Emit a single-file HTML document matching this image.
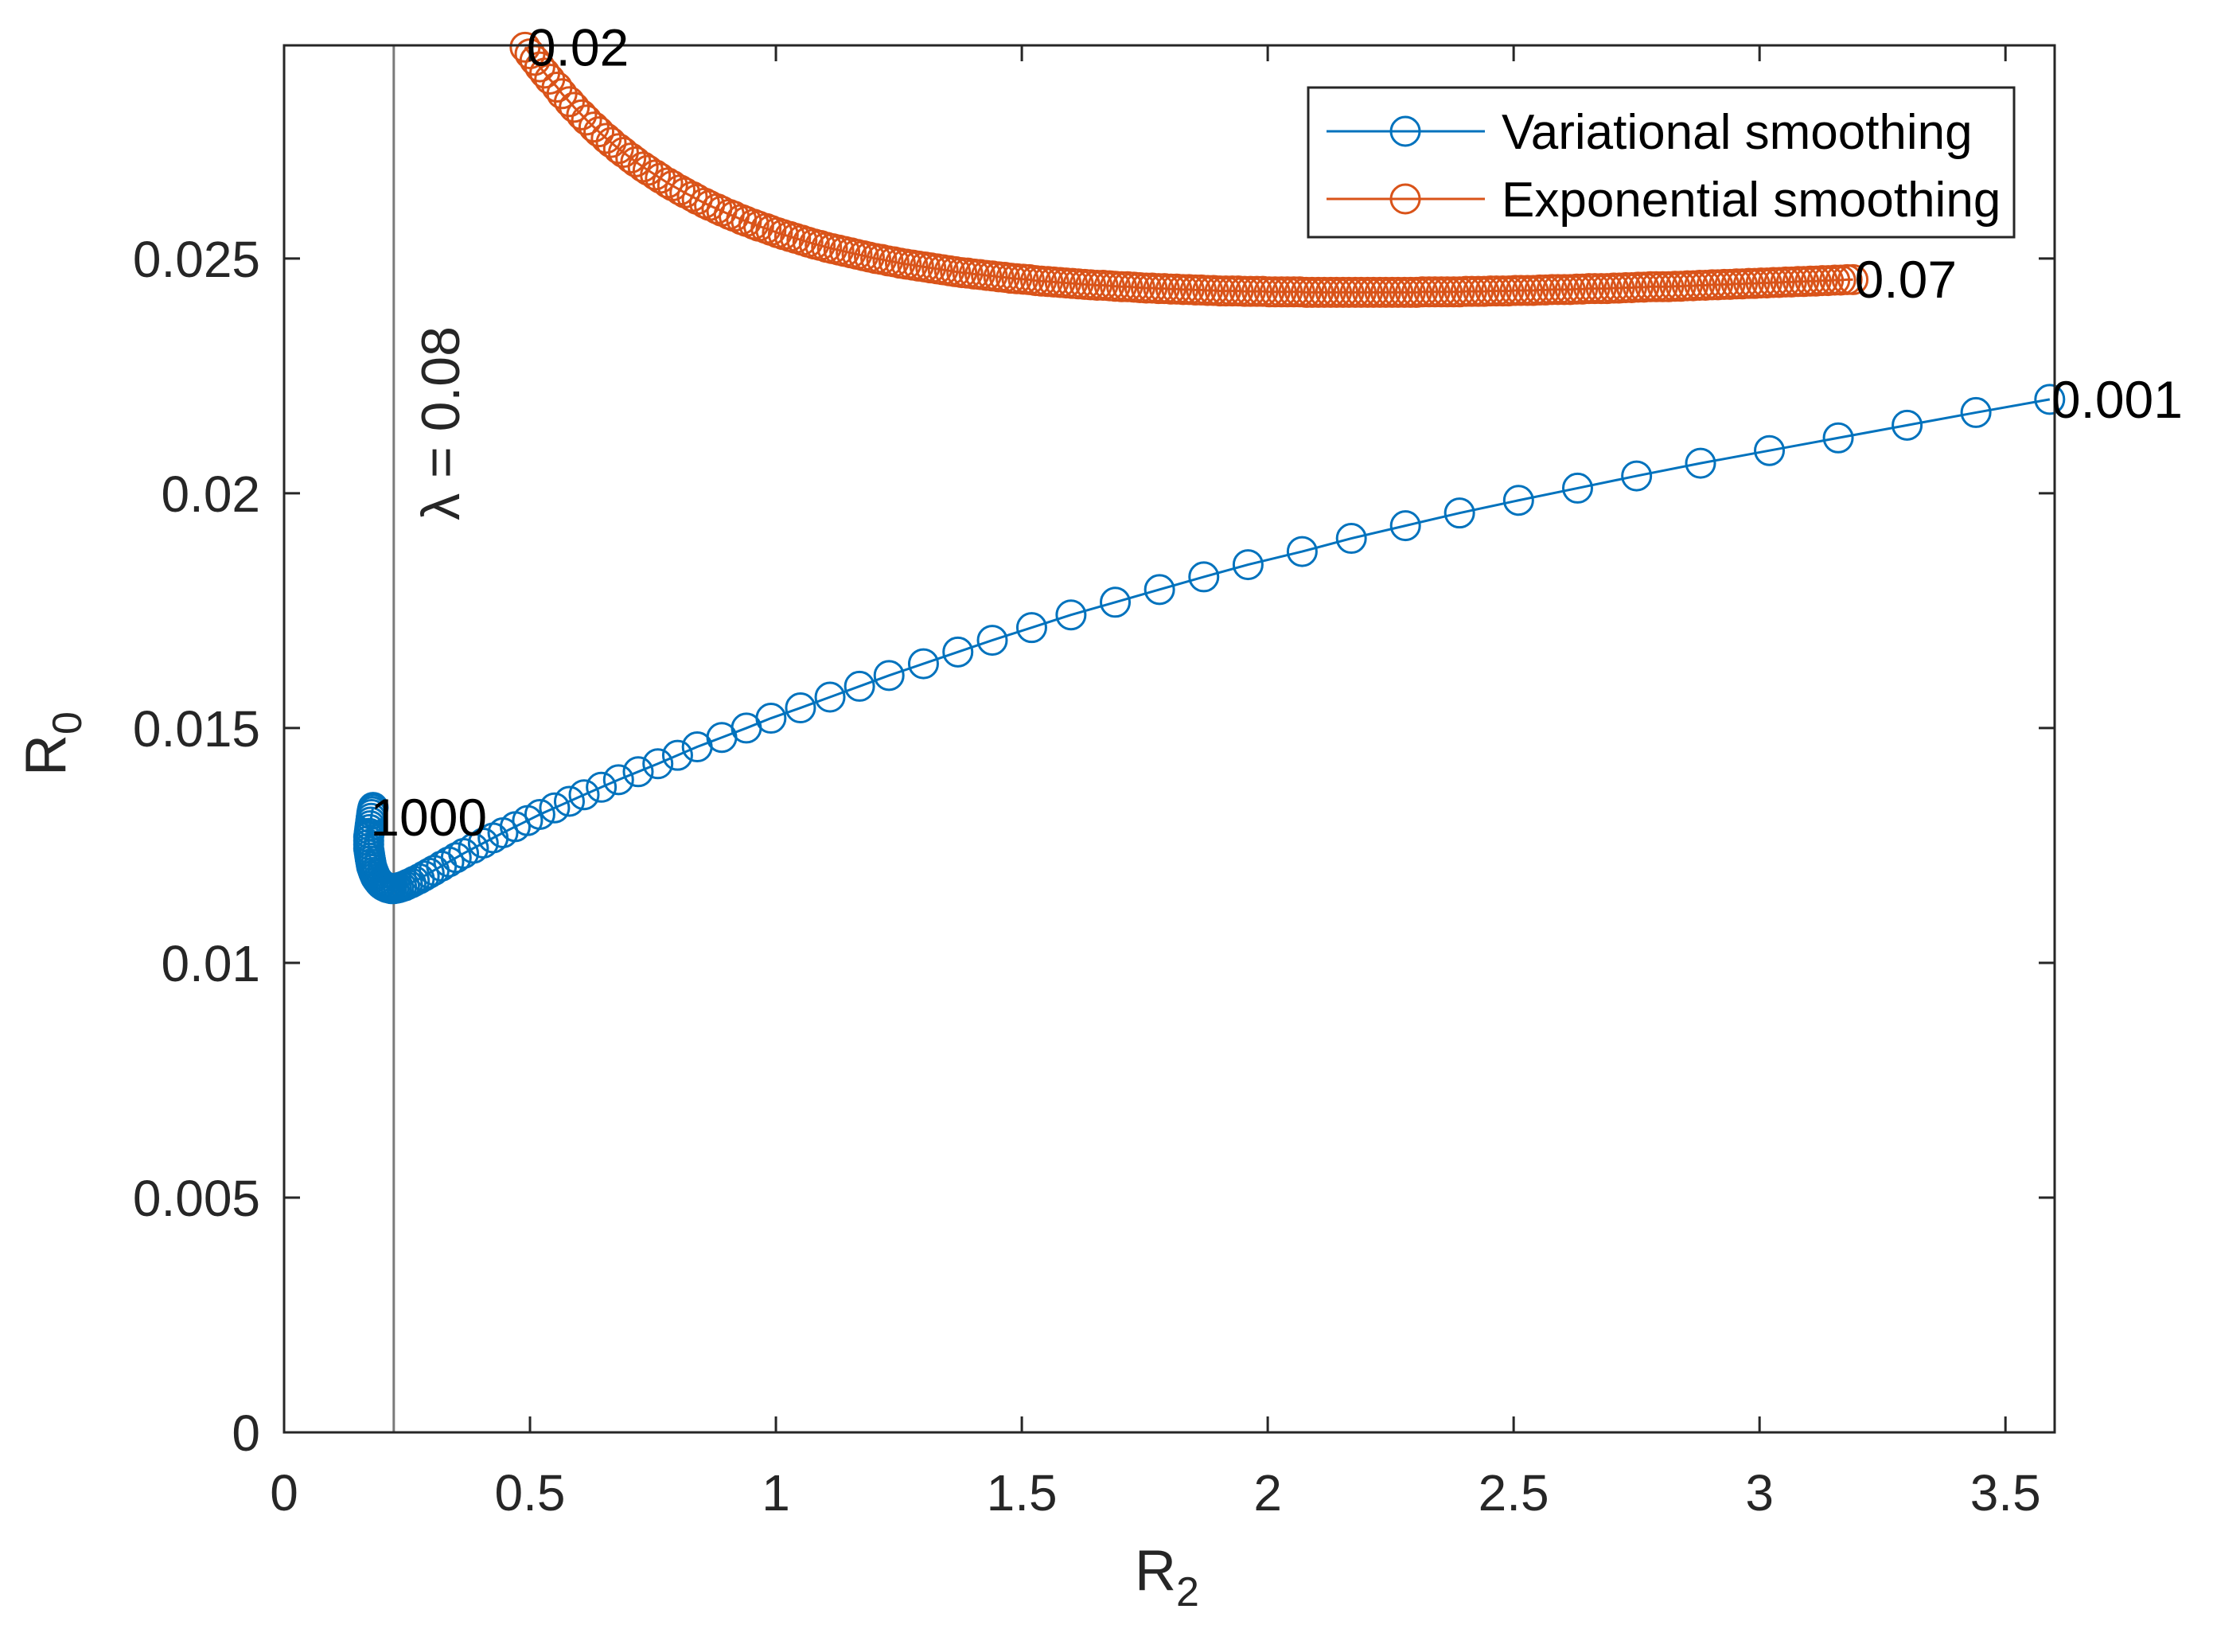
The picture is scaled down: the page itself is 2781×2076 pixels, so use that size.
<!DOCTYPE html>
<html><head><meta charset="utf-8"><style>
html,body{margin:0;padding:0;background:#fff}
svg{display:block;font-family:"Liberation Sans",Arial,sans-serif}
</style></head><body>
<svg id="chart" width="2781" height="2076" viewBox="0 0 2781 2076" xmlns="http://www.w3.org/2000/svg">
<rect width="2781" height="2076" fill="#fff"/>
<g id="series"></g>
<g id="axes"></g>
<g id="labels"></g>
</svg>
<script>
const xTicks=[0,0.5,1,1.5,2,2.5,3,3.5];
const xTickLabels=["0","0.5","1","1.5","2","2.5","3","3.5"];
const yTicks=[0,0.005,0.01,0.015,0.02,0.025];
const yTickLabels=["0","0.005","0.01","0.015","0.02","0.025"];
const lambdaX=0.223;
const varX=[3.59,3.44,3.30,3.16,3.02,2.88,2.75,2.63,2.51,2.39,2.28,2.17,2.07,1.96,1.87,1.78,1.69,1.60,1.52,1.44,1.37,1.30,1.23,1.17,1.11,1.05,0.99,0.94,0.89,0.84,0.80,0.76,0.72,0.68,0.645,0.61,0.58,0.55,0.52,0.495,0.47,0.445,0.425,0.405,0.385,0.365,0.35,0.335,0.32,0.305,0.295,0.285,0.275,0.265,0.258,0.251,0.245,0.239,0.233,0.228,0.223,0.218,0.214,0.21,0.206,0.202,0.198,0.195,0.192,0.189,0.186,0.184,0.182,0.180,0.178,0.177,0.176,0.175,0.174,0.173,0.172,0.172,0.172,0.172,0.173,0.174,0.175,0.176,0.177,0.178,0.179,0.180,0.181];
const varY=[.02200,.02172,.02145,.02118,.02091,.02064,.02037,.02011,.01985,.01958,.01931,.01904,.01876,.01848,.01822,.01795,.01768,.01741,.01714,.01687,.01662,.01637,.01612,.01589,.01566,.01543,.01521,.01500,.01480,.01460,.01442,.01424,.01407,.01390,.01374,.01358,.01344,.01330,.01316,.01303,.01290,.01277,.01266,.01255,.01244,.01233,.01224,.01215,.01206,.01197,.01191,.01185,.01179,.01174,.01170,.01167,.01164,.01162,.01160,.01159,.01158,.01158,.01159,.01160,.01162,.01164,.01167,.01170,.01174,.01178,.01183,.01188,.01193,.01199,.01205,.01211,.01217,.01223,.01230,.01237,.01244,.01252,.01260,.01268,.01276,.01284,.01292,.01300,.01308,.01316,.01322,.01327,.01331];
const expX=[0.49,0.5,0.51,0.52,0.53,0.54,0.555,0.565,0.58,0.59,0.605,0.615,0.63,0.64,0.655,0.665,0.68,0.69,0.705,0.715,0.73,0.74,0.755,0.765,0.78,0.79,0.805,0.815,0.83,0.84,0.855,0.865,0.88,0.89,0.905,0.915,0.93,0.94,0.955,0.965,0.98,0.99,1.003,1.015,1.028,1.04,1.053,1.065,1.078,1.09,1.103,1.115,1.128,1.14,1.153,1.165,1.178,1.19,1.203,1.215,1.228,1.24,1.253,1.265,1.278,1.29,1.303,1.315,1.328,1.34,1.353,1.365,1.378,1.39,1.403,1.415,1.428,1.44,1.453,1.465,1.478,1.49,1.503,1.515,1.528,1.54,1.553,1.565,1.578,1.59,1.603,1.615,1.628,1.64,1.653,1.665,1.678,1.69,1.703,1.715,1.728,1.74,1.753,1.765,1.778,1.79,1.803,1.815,1.828,1.84,1.853,1.865,1.878,1.89,1.903,1.915,1.928,1.94,1.953,1.965,1.978,1.99,2.003,2.015,2.028,2.04,2.053,2.065,2.078,2.09,2.103,2.115,2.128,2.14,2.153,2.165,2.178,2.19,2.203,2.215,2.228,2.24,2.253,2.265,2.278,2.29,2.303,2.315,2.328,2.34,2.353,2.365,2.378,2.39,2.403,2.415,2.428,2.44,2.453,2.465,2.478,2.49,2.503,2.515,2.528,2.54,2.553,2.565,2.578,2.59,2.603,2.615,2.628,2.64,2.653,2.665,2.678,2.69,2.703,2.715,2.728,2.74,2.753,2.765,2.778,2.79,2.803,2.815,2.828,2.84,2.853,2.865,2.878,2.89,2.903,2.915,2.928,2.94,2.953,2.965,2.978,2.99,3.003,3.015,3.028,3.04,3.053,3.065,3.078,3.09,3.103,3.115,3.128,3.14,3.153,3.165,3.178,3.19];
const expY=[.02950,.02936,.02922,.02908,.02895,.02882,.02865,.02851,.02834,.02822,.02806,.02795,.02780,.02770,.02756,.02747,.02734,.02726,.02714,.02706,.02695,.02688,.02678,.02671,.02661,.02655,.02646,.02640,.02632,.02626,.02618,.02613,.02606,.02601,.02594,.02590,.02583,.02579,.02573,.02569,.02564,.02560,.02555,.02551,.02547,.02543,.02539,.02535,.02531,.02528,.02524,.02521,.02518,.02515,.02512,.02509,.02506,.02503,.02500,.02498,.02495,.02493,.02490,.02488,.02486,.02484,.02482,.02480,.02478,.02476,.02474,.02472,.02470,.02469,.02467,.02466,.02464,.02463,.02461,.02460,.02458,.02457,.02456,.02455,.02453,.02452,.02451,.02450,.02449,.02448,.02447,.02446,.02445,.02444,.02443,.02443,.02442,.02441,.02440,.02440,.02439,.02438,.02437,.02437,.02436,.02436,.02435,.02435,.02434,.02434,.02433,.02433,.02432,.02432,.02431,.02431,.02431,.02431,.02430,.02430,.02430,.02430,.02429,.02429,.02429,.02429,.02429,.02429,.02428,.02428,.02428,.02428,.02428,.02428,.02428,.02428,.02428,.02428,.02428,.02428,.02428,.02428,.02428,.02428,.02428,.02428,.02428,.02429,.02429,.02429,.02429,.02429,.02429,.02429,.02430,.02430,.02430,.02430,.02431,.02431,.02431,.02431,.02432,.02432,.02432,.02432,.02433,.02433,.02434,.02434,.02434,.02434,.02435,.02435,.02436,.02436,.02436,.02436,.02437,.02437,.02438,.02438,.02439,.02439,.02440,.02440,.02440,.02440,.02441,.02441,.02442,.02442,.02443,.02443,.02444,.02444,.02445,.02445,.02446,.02446,.02447,.02447,.02448,.02448,.02449,.02449,.02450,.02450,.02451,.02451,.02452,.02452,.02453,.02453,.02454,.02454,.02455,.02455,.02456];
const annotations=[["0.02",0.49,0.0295],["0.07",3.19,0.02456],["0.001",3.59,0.0220],["1000",0.172,0.0131]];

const L=357,R=2582,T=57,B=1800,XMAX=3.6,YMAX=0.02954;
const sx=v=>L+v/XMAX*(R-L);
const sy=v=>B-v/YMAX*(B-T);
const NS="http://www.w3.org/2000/svg";
function mk(tag,attrs,parent){const e=document.createElementNS(NS,tag);for(const k in attrs)e.setAttribute(k,attrs[k]);parent.appendChild(e);return e;}
const gS=document.getElementById('series'),gA=document.getElementById('axes'),gL=document.getElementById('labels');
const BLUE="#0072BD",ORANGE="#D95319",AX="#262626";

let ll=mk('line',{x1:sx(lambdaX),x2:sx(lambdaX),y1:T,y2:B,stroke:"#7a7a7a","stroke-width":3},gS);


let lt=mk('text',{x:0,y:0,transform:`translate(${sx(lambdaX)+82},532) rotate(-90)`,"font-size":68,fill:AX,"text-anchor":"middle"},gS);
lt.textContent="λ = 0.08";



function series(xs,ys,color,name){
  const g=mk('g',{},gS);
  
  
  const pl=mk('polyline',{points:xs.map((x,i)=>sx(x)+","+sy(ys[i])).join(" "),fill:"none",stroke:color,"stroke-width":3},g);
  
  
  xs.forEach((x,i)=>{
    const c=mk('circle',{cx:sx(x),cy:sy(ys[i]),r:18,fill:"none",stroke:color,"stroke-width":3},g);
    
    
  });
}
series(varX,varY,BLUE,'variational-series');
series(expX,expY,ORANGE,'exponential-series');

annotations.forEach(a=>{
  const t=mk('text',{x:sx(a[1])+2,y:sy(a[2])+23,"font-size":66,fill:"#000"},gL);
  t.textContent=a[0];
  
  
});

const box=mk('rect',{x:L,y:T,width:R-L,height:B-T,fill:"none",stroke:AX,"stroke-width":3},gA);


xTicks.forEach((v,i)=>{
  const x=sx(v);
  mk('line',{x1:x,x2:x,y1:B,y2:B-20,stroke:AX,"stroke-width":3},gA);
  mk('line',{x1:x,x2:x,y1:T,y2:T+20,stroke:AX,"stroke-width":3},gA);
  const t=mk('text',{x:x,y:B+98,"font-size":64,fill:AX,"text-anchor":"middle"},gA);
  t.textContent=xTickLabels[i];
  
  
});
yTicks.forEach((v,i)=>{
  const y=sy(v);
  mk('line',{x1:L,x2:L+20,y1:y,y2:y,stroke:AX,"stroke-width":3},gA);
  mk('line',{x1:R,x2:R-20,y1:y,y2:y,stroke:AX,"stroke-width":3},gA);
  const t=mk('text',{x:L-30,y:y+23,"font-size":64,fill:AX,"text-anchor":"end"},gA);
  t.textContent=yTickLabels[i];
  
  
});
</script>
<svg style="position:absolute;left:0;top:0" width="2781" height="2076">
<text x="1426" y="1998" font-size="72" fill="#262626" font-family="Liberation Sans, sans-serif">R<tspan font-size="52" dy="20">2</tspan></text>
<text transform="translate(82,975) rotate(-90)" font-size="72" fill="#262626" font-family="Liberation Sans, sans-serif">R<tspan font-size="52" dy="20">0</tspan></text>
<g>
<rect x="1644" y="110" width="887" height="188" fill="#fff" stroke="#262626" stroke-width="3"/>
<line x1="1667" x2="1866" y1="165" y2="165" stroke="#0072BD" stroke-width="3"/>
<circle cx="1766" cy="165" r="18" fill="none" stroke="#0072BD" stroke-width="3"/>
<text x="1887" y="187" font-size="62" fill="#000" font-family="Liberation Sans, sans-serif">Variational smoothing</text>
<line x1="1667" x2="1866" y1="250" y2="250" stroke="#D95319" stroke-width="3"/>
<circle cx="1766" cy="250" r="18" fill="none" stroke="#D95319" stroke-width="3"/>
<text x="1887" y="272" font-size="62" fill="#000" font-family="Liberation Sans, sans-serif">Exponential smoothing</text>
</g>
</svg>
</body></html>
